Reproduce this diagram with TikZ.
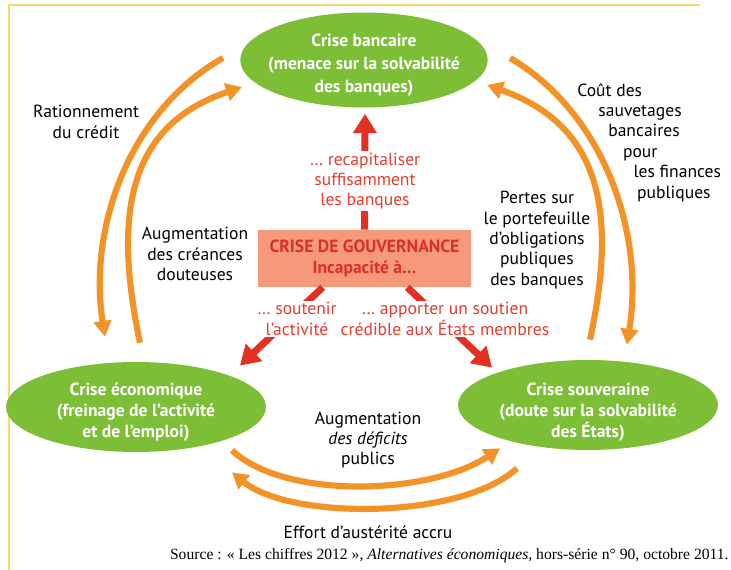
\documentclass[tikz,border=0pt]{standalone}
\usepackage{fontspec}
\setmainfont{PT Sans}
\newfontfamily\srcfont{Liberation Serif}
\usetikzlibrary{shapes.geometric,arrows.meta}
\definecolor{crisegreen}{RGB}{125,190,55}
\definecolor{arcorange}{RGB}{243,146,38}
\definecolor{arrowred}{RGB}{226,48,35}
\definecolor{notered}{RGB}{225,62,45}
\definecolor{govfill}{RGB}{246,152,122}
\definecolor{govtext}{RGB}{215,50,35}
\definecolor{frameyellow}{RGB}{250,214,110}
\begin{document}
\begin{tikzpicture}[
  x=0.02cm, y=-0.02cm,
  crise/.style = {ellipse, fill=crisegreen, inner sep=0pt, minimum width=5.2cm, minimum height=1.8cm},
  crisetext/.style = {align=center, text=white, font=\bfseries\fontsize{10}{12}\selectfont},
  gouv/.style = {fill=govfill, minimum width=4.26cm, minimum height=1.14cm, align=center,
    text=govtext, font=\bfseries\fontsize{10}{12.5}\selectfont},
  orangearc/.style = {draw=arcorange, line width=3.5pt, -{Triangle[length=9pt,width=10pt]}},
  redarc/.style = {draw=arrowred, line width=4pt, -{Triangle[length=11pt,width=13pt]}},
  note/.style = {align=center, font=\fontsize{10}{11.6}\selectfont},
  rednote/.style = {note, text=notered, fill=white, inner sep=1pt},
]
\useasboundingbox (0,0) rectangle (731,570);
% cadre
\draw[frameyellow, line width=1.5pt] (9,570) -- (9,5) -- (700,5);

% les trois crises
\node[crise, minimum width=4.95cm, minimum height=1.9cm] (bank) at (364,60) {};
\node[crise] (eco) at (136,407) {};
\node[crise] (sov) at (588,405) {};
\node[crisetext, font=\bfseries\fontsize{10}{13}\selectfont] (banktext) at ([yshift=-3]bank.center) {Crise bancaire\\(menace sur la solvabilité\\des banques)};
\node[crisetext] (ecotext) at ([yshift=-3]eco.center) {Crise économique\\(freinage de l’activité\\et de l’emploi)};
\node[crisetext] (sovtext) at ([yshift=-4]sov.center) {Crise souveraine\\(doute sur la solvabilité\\des États)};

\node[gouv] (gov) at (364.5,258.5) {CRISE DE GOUVERNANCE\\Incapacité à…};

% fleches rouges
\draw[redarc] (gov.north) -- ([shift={(1,6)}]bank.south);
\draw[redarc] ([shift={(65,0)}]gov.south west) -- ([shift={(104,4)}]eco.north);
\draw[redarc] ([shift={(-64,0)}]gov.south east) -- ([shift={(-96,8)}]sov.north);

% boucles
\draw[orangearc] ([shift={(-17,-2)}]bank.west) .. controls (128,112) and (88,230) .. ([shift={(-31,-25)}]eco.north);
\draw[orangearc] ([shift={(4,-19)}]eco.north) .. controls (112,210) and (130,125) .. ([shift={(2,27)}]bank.west);
\draw[orangearc] ([shift={(22,-2)}]bank.east) .. controls (602,112) and (645,230) .. ([shift={(39,-15)}]sov.north);
\draw[orangearc] ([shift={(2,-20)}]sov.north) .. controls (618,210) and (600,125) .. ([shift={(-1,25)}]bank.east);
\draw[orangearc] ([shift={(96,-2)}]eco.south) .. controls (285,500) and (430,495) .. ([shift={(-88,-2)}]sov.south);
\draw[orangearc] ([shift={(-71,18)}]sov.south) .. controls (460,520) and (290,520) .. ([shift={(96,20)}]eco.south);

% textes
\node[rednote] (recap) at (365,181) {… recapitaliser\\suffisamment\\les banques};
\node[rednote] (soutenir) at (297,319) {… soutenir\\l’activité};
\node[rednote] (apporter) at (445,319) {… apporter un soutien\\crédible aux États membres};

\node[note] (ration) at (86,122) {Rationnement\\du crédit};
\node[note] (creances) at (195,254) {Augmentation\\des créances\\douteuses};
\node[note, align=left, anchor=west, inner sep=0pt] (cout) at (577,142.5)
  {Coût des\\\hspace*{12pt}sauvetages\\\hspace*{17.6pt}bancaires\\\hspace*{26pt}pour\\\hspace*{32pt}les finances\\\hspace*{34pt}publiques};
\node[note] (pertes) at (537,240) {Pertes sur\\le portefeuille\\d’obligations\\publiques\\des banques};
\node[note] (deficits) at (368,440) {Augmentation\\\textit{des déficits}\\publics};
\node[note] (austerite) at (368,532) {Effort d’austérité accru};

\node[anchor=east, inner sep=0pt, font=\srcfont\fontsize{8.9}{10}\selectfont] (source) at (729,556)
  {Source~: «~Les chiffres 2012~», \textit{Alternatives économiques}, hors-série n°~90, octobre 2011.};
\end{tikzpicture}
\end{document}
